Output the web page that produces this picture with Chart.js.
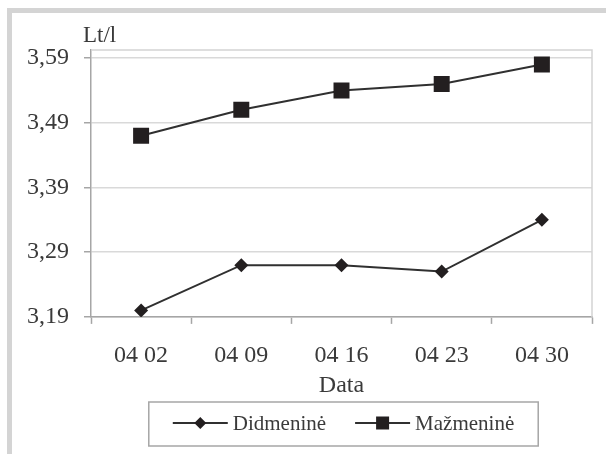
<!DOCTYPE html>
<html>
<head>
<meta charset="utf-8">
<script src="https://cdn.jsdelivr.net/npm/chart.js@4"></script>
<style>
html, body { margin: 0; padding: 0; background: #fff; overflow: hidden; }
#frame { position: absolute; left: 7px; top: 8px; width: 640px; height: 480px; border: 5px solid #d4d4d4; }
#wrap { position: absolute; left: 0; top: 0; width: 594px; height: 441px; }
</style>
</head>
<body>
<div id="frame"><div id="wrap"><canvas id="chart"></canvas></div></div>
<script>
var dates = ["04 02", "04 09", "04 16", "04 23", "04 30"];
var didmenine = [3.20, 3.27, 3.27, 3.26, 3.34];
var mazmenine = [3.47, 3.51, 3.54, 3.55, 3.58];
var yTicks = [3.19, 3.29, 3.39, 3.49, 3.59];

var font = "'Liberation Serif', 'Times New Roman', serif";
var textColor = "#3a3a3a";

// light border on top and right of the plot area
var plotBorder = {
  id: "plotBorder",
  beforeDatasetsDraw: function(chart) {
    var a = chart.chartArea, ctx = chart.ctx;
    ctx.save();
    ctx.strokeStyle = "#d3d3d3";
    ctx.lineWidth = 1.5;
    ctx.beginPath();
    ctx.moveTo(a.left, a.top);
    ctx.lineTo(a.right, a.top);
    ctx.lineTo(a.right, a.bottom);
    ctx.stroke();
    ctx.restore();
  }
};

// "Lt/l" unit above the y axis
var unitLabel = {
  id: "unitLabel",
  afterDraw: function(chart) {
    var a = chart.chartArea, ctx = chart.ctx;
    ctx.save();
    ctx.font = "23px " + font;
    ctx.fillStyle = textColor;
    ctx.textAlign = "left";
    ctx.textBaseline = "alphabetic";
    ctx.fillText("Lt/l", a.left - 8, a.top - 8);
    ctx.restore();
  }
};

function drawMarker(ctx, style, x, y, r) {
  ctx.beginPath();
  if (style === "rectRot") {
    ctx.moveTo(x, y - r);
    ctx.lineTo(x + r, y);
    ctx.lineTo(x, y + r);
    ctx.lineTo(x - r, y);
    ctx.closePath();
  } else {
    ctx.rect(x - r, y - r, r * 2, r * 2);
  }
  ctx.fill();
}

// boxed legend with line + marker samples
var boxLegend = {
  id: "boxLegend",
  afterDraw: function(chart) {
    var ctx = chart.ctx, a = chart.chartArea;
    var sets = chart.data.datasets;
    var sample = 55, gap = 5, between = 29, pad = 24;
    ctx.save();
    ctx.font = "21px " + font;
    var total = 0;
    sets.forEach(function(ds, i) {
      total += sample + gap + ctx.measureText(ds.label).width + (i ? between : 0);
    });
    var boxW = total + pad * 2, boxH = 44;
    var left = (a.left + a.right) / 2 + 2 - boxW / 2;
    var top = chart.height - 52;
    ctx.strokeStyle = "#a6a6a6";
    ctx.lineWidth = 1.5;
    ctx.strokeRect(left, top, boxW, boxH);
    var x = left + pad, yLine = top + 21, yText = top + 28;
    sets.forEach(function(ds) {
      ctx.strokeStyle = ds.borderColor;
      ctx.lineWidth = 2;
      ctx.beginPath();
      ctx.moveTo(x, yLine);
      ctx.lineTo(x + sample, yLine);
      ctx.stroke();
      ctx.fillStyle = ds.pointBackgroundColor;
      drawMarker(ctx, ds.pointStyle, x + sample / 2, yLine, ds.pointStyle === "rectRot" ? 6 : 6.5);
      ctx.fillStyle = textColor;
      ctx.textAlign = "left";
      ctx.textBaseline = "alphabetic";
      ctx.fillText(ds.label, x + sample + gap, yText);
      x += sample + gap + ctx.measureText(ds.label).width + between;
    });
    ctx.restore();
  }
};

var ctx = document.getElementById("chart").getContext("2d");
var chart = new Chart(ctx, {
  type: "line",
  data: {
    labels: dates,
    datasets: [{
      label: "Didmeninė",
      data: didmenine,
      borderColor: "#303030",
      borderWidth: 2,
      pointStyle: "rectRot",
      pointRadius: 7,
      pointBackgroundColor: "#231f20",
      pointBorderColor: "#231f20",
      pointBorderWidth: 0,
      tension: 0
    }, {
      label: "Mažmeninė",
      data: mazmenine,
      borderColor: "#303030",
      borderWidth: 2,
      pointStyle: "rect",
      pointRadius: 11.3,
      pointBackgroundColor: "#231f20",
      pointBorderColor: "#231f20",
      pointBorderWidth: 0,
      tension: 0
    }]
  },
  options: {
    responsive: true,
    maintainAspectRatio: false,
    animation: false,
    layout: { padding: { left: 0, right: 14, top: 37, bottom: 54 } },
    plugins: {
      legend: { display: false },
      tooltip: { enabled: false }
    },
    scales: {
      x: {
        offset: true,
        grid: {
          offset: true,
          drawOnChartArea: false,
          drawTicks: true,
          tickLength: 7,
          tickColor: "#a6a6a6",
          tickWidth: 1.5
        },
        border: { color: "#a6a6a6", width: 1.5 },
        ticks: {
          padding: 17,
          color: textColor,
          font: { family: font, size: 24 },
          maxRotation: 0
        },
        title: {
          display: true,
          text: "Data",
          color: textColor,
          font: { family: font, size: 24 },
          padding: { top: -15.5, bottom: 0 }
        }
      },
      y: {
        min: 3.19,
        max: 3.6025,
        afterBuildTicks: function(scale) {
          scale.ticks = yTicks.map(function(v) { return { value: v }; });
        },
        grid: {
          color: "#d9d9d9",
          lineWidth: 1.5,
          tickLength: 7,
          tickColor: "#a6a6a6",
          tickWidth: 1.5
        },
        border: { color: "#a6a6a6", width: 1.5 },
        ticks: {
          padding: 15,
          color: textColor,
          font: { family: font, size: 24 },
          callback: function(v) { return v.toFixed(2).replace(".", ","); }
        }
      }
    }
  },
  plugins: [plotBorder, unitLabel, boxLegend]
});
</script>
</body>
</html>
